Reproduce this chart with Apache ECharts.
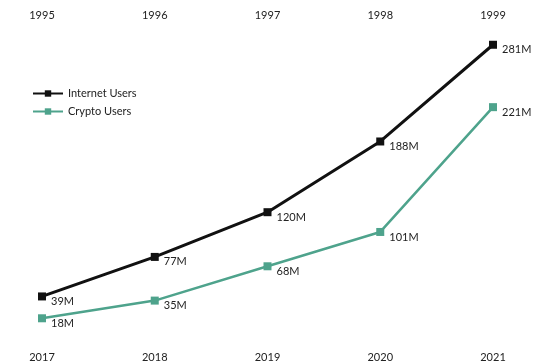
<!DOCTYPE html>
<html><head><meta charset="utf-8">
<script src="https://cdn.jsdelivr.net/npm/echarts@6/dist/echarts.min.js"></script>
<style>html,body{margin:0;padding:0;background:#fff}#c{width:538px;height:363px}</style>
</head><body><div id="c"></div>
<script>
const internetYears = ['1995','1996','1997','1998','1999'];
const cryptoYears = ['2017','2018','2019','2020','2021'];
const internetUsers = [39, 77, 120, 188, 281];
const cryptoUsers = [18, 35, 68, 101, 221];

const chart = echarts.init(document.getElementById('c'));
const font = 'Lato, "Open Sans", sans-serif';
const lbl = {
  show: true, position: 'right', offset: [0, 5], formatter: p => p.value + 'M',
  color: '#222', fontSize: 11, fontFamily: font
};
chart.setOption({
  animation: false,
  backgroundColor: '#fff',
  grid: { left: 42, right: 45, top: 25, bottom: 25.4 },
  legend: {
    orient: 'vertical', left: 27, top: 83, itemWidth: 30, itemHeight: 8, itemGap: 7,
    textStyle: { color: '#222', fontSize: 11, fontFamily: font },
    data: ['Internet Users', 'Crypto Users']
  },
  xAxis: [
    { type: 'category', position: 'bottom', data: cryptoYears, boundaryGap: false,
      axisLine: { show: false }, axisTick: { show: false },
      axisLabel: { color: '#222', fontSize: 11, fontFamily: font, margin: 15 } },
    { type: 'category', position: 'top', data: internetYears, boundaryGap: false,
      axisLine: { show: false }, axisTick: { show: false },
      axisLabel: { color: '#222', fontSize: 11, fontFamily: font, margin: 4 } }
  ],
  yAxis: { type: 'value', min: 0, max: 300, show: false, splitLine: { show: false } },
  series: [
    { name: 'Internet Users', type: 'line', xAxisIndex: 1, data: internetUsers,
      symbol: 'rect', symbolSize: 8, color: '#111',
      lineStyle: { width: 3, color: '#111' }, itemStyle: { color: '#111' }, label: lbl },
    { name: 'Crypto Users', type: 'line', xAxisIndex: 0, data: cryptoUsers,
      symbol: 'rect', symbolSize: 8, color: '#4ea38c',
      lineStyle: { width: 2.5, color: '#4ea38c' }, itemStyle: { color: '#4ea38c' }, label: lbl }
  ]
});
</script></body></html>
